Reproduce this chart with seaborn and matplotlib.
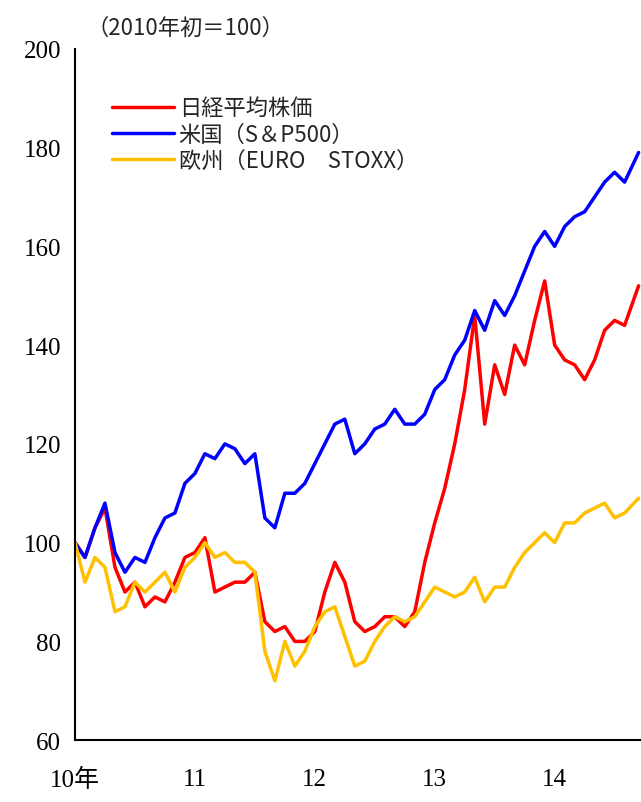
import numpy as np
import pandas as pd
import seaborn as sns
import matplotlib.pyplot as plt

# monthly readings (Jan 2010 - Sep 2014), index 2010 start = 100
nikkei = [100, 97, 103, 107, 95, 90, 92, 87, 89, 88, 92, 97,
          98, 101, 90, 91, 92, 92, 94, 84, 82, 83, 80, 80,
          82, 90, 96, 92, 84, 82, 83, 85, 85, 83, 86, 96,
          104, 111, 120, 131, 146, 124, 136, 130, 140, 136, 145, 153,
          140, 137, 136, 133, 137, 143, 145, 144, 152]
sp500 = [100, 97, 103, 108, 98, 94, 97, 96, 101, 105, 106, 112,
         114, 118, 117, 120, 119, 116, 118, 105, 103, 110, 110, 112,
         116, 120, 124, 125, 118, 120, 123, 124, 127, 124, 124, 126,
         131, 133, 138, 141, 147, 143, 149, 146, 150, 155, 160, 163,
         160, 164, 166, 167, 170, 173, 175, 173, 179]
stoxx = [100, 92, 97, 95, 86, 87, 92, 90, 92, 94, 90, 95,
         97, 100, 97, 98, 96, 96, 94, 78, 72, 80, 75, 78,
         83, 86, 87, 81, 75, 76, 80, 83, 85, 84, 85, 88,
         91, 90, 89, 90, 93, 88, 91, 91, 95, 98, 100, 102,
         100, 104, 104, 106, 107, 108, 105, 106, 109]
names = ['日経平均株価', '米国（S＆P500）', '欧州（EURO　STOXX）']
colors = ['#ff0000', '#0000ff', '#ffc000']
year_ticks = [10, 11, 12, 13, 14]
year_labels = ['10年', '11', '12', '13', '14']

t = 10 + np.arange(len(nikkei)) / 12 * 1.0
t[-1] = 14.7
df = pd.DataFrame({'t': np.tile(t, 3),
                   'v': nikkei + sp500 + stoxx,
                   's': np.repeat(names, len(t))})

sns.set_style('white')
plt.rcParams['font.family'] = ['Noto Sans CJK JP', 'DejaVu Sans']

fig = plt.figure(figsize=(6.41, 8.03), dpi=100)
ax = fig.add_axes([0.117, 0.077, 0.883, 0.861])
sns.lineplot(data=df, x='t', y='v', hue='s', palette=colors, linewidth=2.5, ax=ax)

ax.set_xlim(10, 14.72)
ax.set_ylim(60, 200)
ax.set_yticks(range(60, 201, 20))
ax.set_xticks(year_ticks)
ax.set_xticklabels(year_labels)
for lab in ax.get_yticklabels() + ax.get_xticklabels():
    lab.set_fontsize(18)
    lab.set_family(['Liberation Serif', 'Noto Sans CJK JP'])
ax.tick_params(axis='y', direction='out', length=6, width=1.5, colors='black', pad=4)
ax.tick_params(axis='x', direction='out', length=6, width=1.5, colors='black', pad=14)
ax.set_xlabel('')
ax.set_ylabel('')
for s in ['top', 'right']:
    ax.spines[s].set_visible(False)
for s in ['left', 'bottom']:
    ax.spines[s].set_linewidth(1.5)
    ax.spines[s].set_color('black')

leg = ax.legend(loc='upper left', bbox_to_anchor=(0.03, 0.96), frameon=False,
                fontsize=16, handlelength=2.8, labelspacing=0.15, handletextpad=0.2)
fig.text(0.135, 0.965, '（2010年初＝100）', fontsize=16, va='center')

fig.savefig('out.png', dpi=100)
